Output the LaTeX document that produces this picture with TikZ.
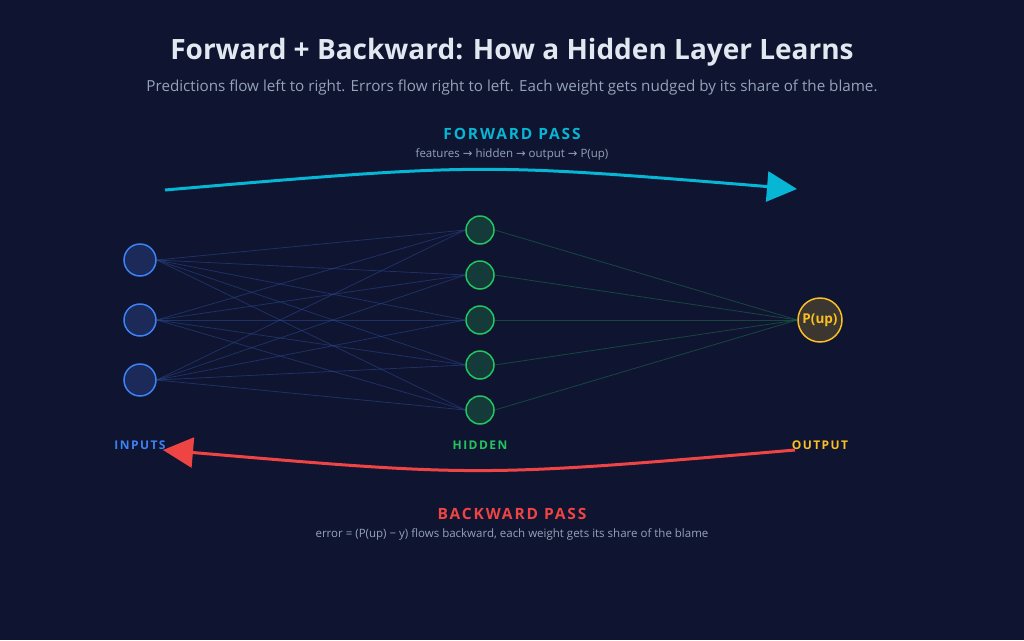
\documentclass[tikz,border=0pt]{standalone}
\usepackage{fontspec}
\setmainfont{Open Sans}
\newfontfamily\spacedfont[LetterSpace=12]{Open Sans}
\newfontfamily\symfont{DejaVu Sans}
\newcommand{\rarr}{{\symfont →}}
\usepackage{tikz}
\usetikzlibrary{positioning,arrows.meta,backgrounds}
\definecolor{bgnavy}{HTML}{0F1430}
\definecolor{titlewhite}{HTML}{E2E8F0}
\definecolor{subgray}{HTML}{94A3B8}
\definecolor{fwdcyan}{HTML}{06B6D4}
\definecolor{bwdred}{HTML}{EF4444}
\definecolor{inblue}{HTML}{3B82F6}
\definecolor{infill}{HTML}{1B2A58}
\definecolor{hidgreen}{HTML}{22C55E}
\definecolor{hidfill}{HTML}{143B3A}
\definecolor{outamber}{HTML}{FBBF24}
\definecolor{outfill}{HTML}{3B3730}
\definecolor{bluewire}{HTML}{2A4A90}
\definecolor{greenwire}{HTML}{1C5A48}

\begin{document}
\begin{tikzpicture}[x=1pt,y=-1pt,
  innode/.style={circle,draw=inblue,fill=infill,line width=1.5pt,minimum size=32pt,inner sep=0pt},
  hidnode/.style={circle,draw=hidgreen,fill=hidfill,line width=1.5pt,minimum size=28pt,inner sep=0pt},
  outnode/.style={circle,draw=outamber,fill=outfill,line width=1.5pt,minimum size=44pt,inner sep=0pt,
    text=outamber,font=\fontsize{13.5}{15}\selectfont\bfseries},
  layerlbl/.style={font=\spacedfont\fontsize{12}{14}\selectfont\bfseries},
  passlbl/.style={font=\spacedfont\fontsize{15.5}{18}\selectfont\bfseries},
  caption/.style={text=subgray,font=\fontsize{11.5}{13}\selectfont},
  bwire/.style={draw=bluewire,line width=0.8pt,opacity=0.55},
  gwire/.style={draw=greenwire,line width=0.8pt,opacity=0.7},
  pass/.style={line width=3pt,-{Triangle[length=30pt,width=30pt]}}
]
% headings
\node[text=titlewhite,font=\fontsize{28}{32}\selectfont\bfseries] (title) at (512,52)
  {Forward + Backward: How a Hidden Layer Learns};
\node[text=subgray,font=\fontsize{15.2}{18}\selectfont] (subtitle) at (512,88)
  {Predictions flow left to right. Errors flow right to left. Each weight gets nudged by its share of the blame.};

% forward pass
\node[passlbl,text=fwdcyan] (fwdlbl) at (512,134) {FORWARD PASS};
\node[caption] (fwdcap) at (512,154) {features \rarr{} hidden \rarr{} output \rarr{} P(up)};
\coordinate (fwdstart) at (165,190);
\coordinate (fwdend) at (797,189);
\draw[pass,fwdcyan] (fwdstart) .. controls (480,163) .. (fwdend);

% network
\foreach \i/\y in {1/260,2/320,3/380}
  \node[innode] (in\i) at (140,\y) {};
\foreach \j/\y in {1/230,2/275,3/320,4/365,5/410}
  \node[hidnode] (h\j) at (480,\y) {};
\node[outnode] (out) at (820,320) {P(up)};

\begin{scope}[on background layer]
  \fill[bgnavy] (0,0) rectangle (1024,640);
  \foreach \i in {1,2,3}
    \foreach \j in {1,...,5}
      \draw[bwire] (in\i.east) -- (h\j.west);
  \foreach \j in {1,...,5}
    \draw[gwire] (h\j.east) -- (out.west);
\end{scope}

% layer labels
\node[layerlbl,text=inblue] (inlbl) at (140,445) {INPUTS};
\node[layerlbl,text=hidgreen] (hidlbl) at (480,445) {HIDDEN};
\node[layerlbl,text=outamber] (outlbl) at (820,445) {OUTPUT};

% backward pass
\coordinate (bwdstart) at (795,450);
\coordinate (bwdend) at (163,450);
\draw[pass,bwdred] (bwdstart) .. controls (480,477) .. (bwdend);
\node[passlbl,text=bwdred] (bwdlbl) at (512,514) {BACKWARD PASS};
\node[caption] (bwdcap) at (512,534) {error = (P(up) − y) flows backward, each weight gets its share of the blame};
\end{tikzpicture}
\end{document}
